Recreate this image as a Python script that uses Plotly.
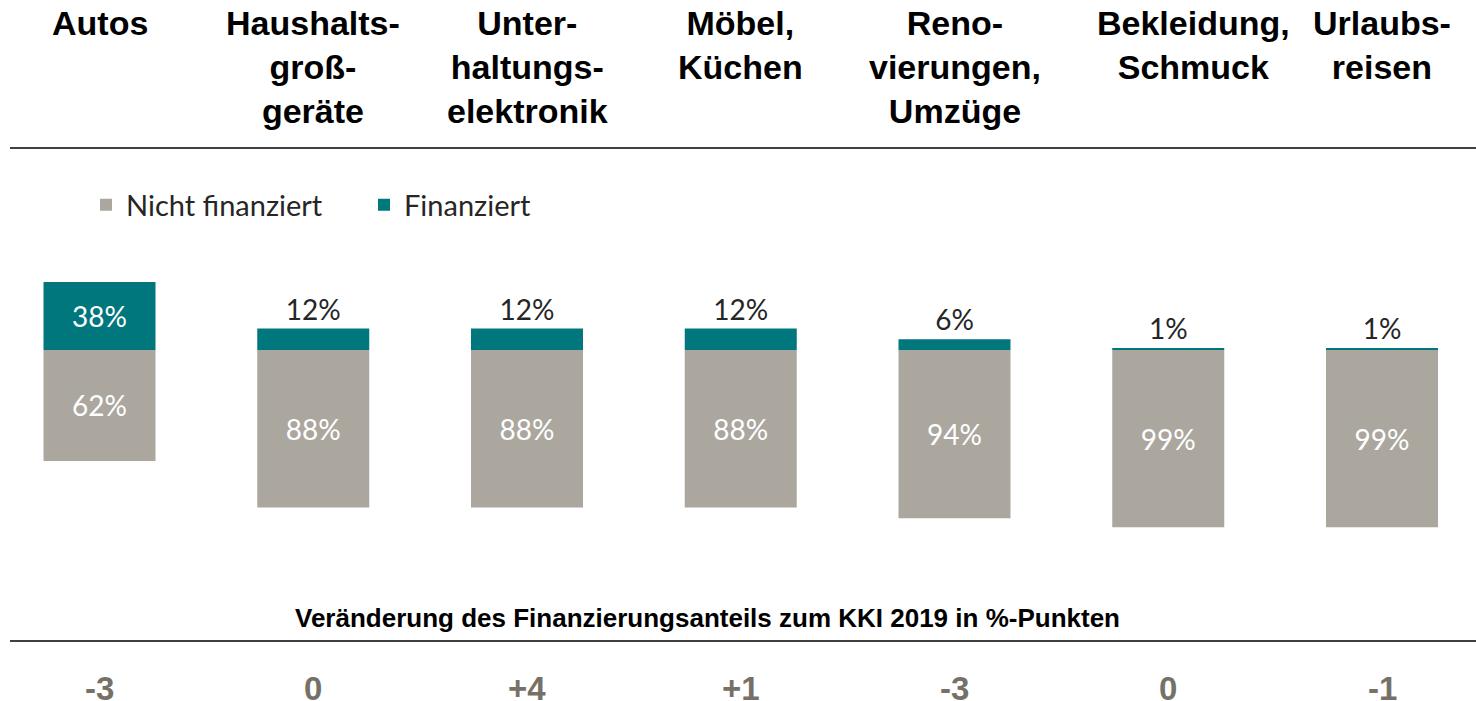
import plotly.graph_objects as go

# ---- data ----
categories = ["Autos", "Haushaltsgroßgeräte", "Unterhaltungselektronik", "Möbel, Küchen",
              "Renovierungen, Umzüge", "Bekleidung, Schmuck", "Urlaubsreisen"]
header_labels = ["Autos", "Haushalts-<br>groß-<br>geräte", "Unter-<br>haltungs-<br>elektronik",
                 "Möbel,<br>Küchen", "Reno-<br>vierungen,<br>Umzüge", "Bekleidung,<br>Schmuck",
                 "Urlaubs-<br>reisen"]
nicht_finanziert = [62, 88, 88, 88, 94, 99, 99]
finanziert = [38, 12, 12, 12, 6, 1, 1]
veraenderung = ["-3", "0", "+4", "+1", "-3", "0", "-1"]

TEAL = "#00767D"
GREY = "#ABA79F"
W, H = 1476, 701

fig = go.Figure()
fig.add_trace(go.Bar(
    x=categories, y=[-v for v in nicht_finanziert], name="Nicht finanziert",
    marker=dict(color=GREY, line=dict(width=0)),
    text=[f"{v}%" for v in nicht_finanziert], textposition="inside",
    insidetextanchor="middle", constraintext="none",
    textfont=dict(family="Lato", size=28, color="white"),
    hoverinfo="skip",
))
fig.add_trace(go.Bar(
    x=categories, y=finanziert, name="Finanziert",
    marker=dict(color=TEAL, line=dict(width=0)),
    text=[f"{v}%" for v in finanziert],
    textposition=["inside"] + ["outside"] * (len(finanziert) - 1),
    insidetextanchor="middle", constraintext="none",
    insidetextfont=dict(family="Lato", size=28, color="white"),
    outsidetextfont=dict(family="Lato", size=28, color="#262626"),
    cliponaxis=False, hoverinfo="skip",
))

# header labels
for i, (cat, lab) in enumerate(zip(categories, header_labels)):
    fig.add_annotation(x=cat, xref="x", y=1, yref="paper", yanchor="top", yshift=-2,
                       text=f"<b>{lab}</b>", showarrow=False, align="center",
                       xshift=25 if i == 5 else 0,
                       font=dict(family="Liberation Sans", size=34, color="#000000"))

# change values
for cat, v in zip(categories, veraenderung):
    fig.add_annotation(x=cat, xref="x", y=1 - 668 / H, yref="paper", yanchor="top",
                       text=f"<b>{v}</b>", showarrow=False,
                       font=dict(family="Liberation Sans", size=33, color="#767168"))

fig.add_annotation(x=707 / W, xref="paper", y=1 - 635 / H, yref="paper", yanchor="bottom",
                   text="<b>Veränderung des Finanzierungsanteils zum KKI 2019 in %-Punkten</b>",
                   showarrow=False, font=dict(family="Liberation Sans", size=26, color="#000000"))

for ypx in (148, 641):
    fig.add_shape(type="line", xref="paper", yref="paper", x0=10 / W, x1=1,
                  y0=1 - ypx / H, y1=1 - ypx / H, line=dict(color="#404040", width=2))

px_per_unit = 1.79
zero_px = 350
spacing = 213.75
first_center = 99.5

fig.update_layout(
    width=W, height=H, barmode="relative", bargap=1 - 112 / spacing,
    margin=dict(l=0, r=0, t=0, b=0),
    paper_bgcolor="white", plot_bgcolor="white",
    showlegend=True,
    legend=dict(orientation="h", x=86 / W, xanchor="left", y=1 - 205 / H, yanchor="middle",
                traceorder="normal", font=dict(family="Lato", size=29, color="#262626"),
                entrywidth=233, entrywidthmode="pixels", bgcolor="rgba(0,0,0,0)"),
    xaxis=dict(range=[-first_center / spacing, (W - first_center) / spacing],
               visible=False, fixedrange=True),
    yaxis=dict(range=[-(H - zero_px) / px_per_unit, zero_px / px_per_unit],
               visible=False, fixedrange=True),
)

fig.write_html(
    "out.html",
    config={"displayModeBar": False},
    post_script="document.body.style.margin='0';document.body.style.overflow='hidden';",
)
